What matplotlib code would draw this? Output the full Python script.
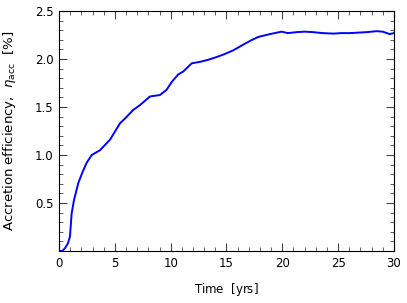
import matplotlib
matplotlib.use("Agg")
import matplotlib.pyplot as plt
from matplotlib.ticker import MultipleLocator, FixedLocator

# ==========================================================
# Data
# ==========================================================

time_yrs = [0.0, 0.3, 0.54, 0.8, 0.98, 1.13, 1.34, 1.73, 2.1, 2.48,
            2.93, 3.67, 4.57, 5.46, 5.91, 6.65, 7.25, 8.15, 9.04, 9.64,
            10.09, 10.68, 11.13, 11.88, 12.6, 13.3, 14.1, 14.8, 15.6,
            16.65, 17.3, 17.85, 18.9, 19.94, 20.5, 21.28, 22.0, 22.77,
            23.6, 24.56, 25.3, 26.05, 26.8, 27.55, 28.44, 29.0, 29.6,
            30.0]
efficiency = [0.0, 0.0, 0.03, 0.08, 0.15, 0.39, 0.53, 0.71, 0.82, 0.92,
              1.0, 1.05, 1.16, 1.33, 1.38, 1.47, 1.52, 1.61, 1.625, 1.68,
              1.76, 1.84, 1.87, 1.955, 1.97, 1.99, 2.02, 2.05, 2.09,
              2.16, 2.2, 2.23, 2.26, 2.285, 2.27, 2.28, 2.285, 2.28,
              2.27, 2.265, 2.27, 2.27, 2.275, 2.28, 2.29, 2.285, 2.26,
              2.27]

x_ticks = [0, 5, 10, 15, 20, 25, 30]
y_ticks = [0.5, 1.0, 1.5, 2.0, 2.5]

# ==========================================================
# Figure
# ==========================================================

plt.rcParams["font.family"] = ["DejaVu Sans"]
plt.rcParams["mathtext.fontset"] = "dejavusans"

fig = plt.figure(figsize=(4.07, 3.03), dpi=100)
ax = fig.add_axes([0.145, 0.1716, 0.823, 0.792])

ax.plot(time_yrs, efficiency, color="blue", linewidth=1.4)

ax.set_xlim(0, 30)
ax.set_ylim(0, 2.5)

ax.xaxis.set_major_locator(FixedLocator(x_ticks))
ax.yaxis.set_major_locator(FixedLocator(y_ticks))
ax.xaxis.set_minor_locator(MultipleLocator(1))
ax.yaxis.set_minor_locator(MultipleLocator(0.1))

ax.tick_params(which="both", direction="in", top=True, right=True,
               labelsize=8.5, color="#444444")
ax.tick_params(which="major", length=6, width=0.8, pad=4)
ax.tick_params(which="minor", length=3, width=0.6)

ax.set_xlabel(r"Time  $[\mathrm{yrs}]$", fontsize=8.5, labelpad=8)
ax.set_ylabel(r"Accretion efficiency,  $\eta_\mathrm{acc}$  $[\%]$",
              fontsize=9.5, labelpad=12)

fig.savefig("out.png", dpi=100)
